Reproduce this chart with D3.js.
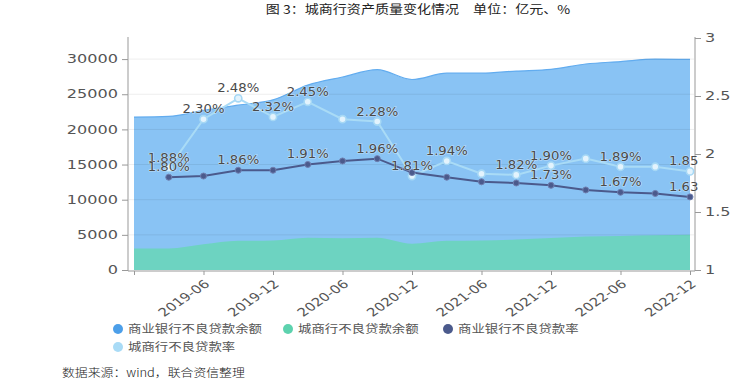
<!DOCTYPE html>
<html>
<head>
<meta charset="utf-8">
<script src="https://cdn.jsdelivr.net/npm/d3@7"></script>
<style>
  body { margin: 0; background: #fff; }
  svg { display: block; }
</style>
</head>
<body>
<div id="chart"></div>
<script>
// Quarterly data, 2018-12 .. 2022-12
const quarters = ["2018-12","2019-03","2019-06","2019-09","2019-12","2020-03","2020-06","2020-09","2020-12",
                  "2021-03","2021-06","2021-09","2021-12","2022-03","2022-06","2022-09","2022-12"]
// 商业银行不良贷款余额 (亿元)
const bankNpl = [21750,21850,22700,23450,24200,26300,27450,28500,27100,28000,28000,28300,28550,29300,29650,30000,29950]
// 城商行不良贷款余额 (亿元)
const cityNpl = [3050,3050,3650,4150,4200,4600,4500,4600,3750,4150,4200,4350,4550,4750,4850,4950,5000]
// 商业银行不良贷款率 (%)
const bankRate = [null,1.80,1.81,1.86,1.86,1.91,1.94,1.96,1.84,1.80,1.76,1.75,1.73,1.69,1.67,1.66,1.63]
// 城商行不良贷款率 (%)
const cityRate = [null,1.88,2.30,2.48,2.32,2.45,2.30,2.28,1.81,1.94,1.83,1.82,1.90,1.96,1.89,1.89,1.85]
// which rate points carry a visible label
const bankRateLabelAt = ["2019-03","2019-09","2020-03","2020-09","2021-12","2022-06","2022-12"]
const cityRateLabelAt = ["2019-03","2019-06","2019-09","2019-12","2020-03","2020-09","2020-12","2021-03","2021-09","2021-12","2022-06","2022-12"]
// axis ticks
const leftTicks = [0,5000,10000,15000,20000,25000,30000]
const rightTicks = [1,1.5,2,2.5,3]
const xTicks = quarters.filter(q => q.endsWith("-06") || q.endsWith("-12"))

const seriesNames = ["商业银行不良贷款余额","城商行不良贷款余额","商业银行不良贷款率","城商行不良贷款率"]
const colors = ["#4c9fe9","#5dd2ae","#4b5a8c","#a9dbf6"]

const width = 740, height = 386
const numFont = "'DejaVu Sans', sans-serif"
const cjkFont = "'Noto Sans CJK SC', sans-serif"

const svg = d3.select("#chart").append("svg")
    .attr("width", width).attr("height", height)

// Scales
const x = d3.scalePoint().domain(quarters).range([134, 690])
const yL = d3.scaleLinear().domain([0, 33000]).range([270, 38])
const yR = d3.scaleLinear().domain([1, 3]).range([270, 38])

// Title
svg.append("text")
   .attr("transform", "translate(418,14) scale(1.17,1)")
   .attr("text-anchor", "middle")
   .style("font-family", "'Noto Sans CJK SC', serif")
   .style("font-size", "12px")
   .attr("fill", "#222")
   .text("图 3：城商行资产质量变化情况　单位：亿元、%")

// Areas
const areaL = d3.area()
    .x((d, i) => x(quarters[i]))
    .y0(yL(0))
    .y1(d => yL(d))
    .curve(d3.curveMonotoneX)

svg.append("path").datum(bankNpl)
   .attr("d", areaL).attr("fill", "#89c3f4")
svg.append("path").datum(bankNpl)
   .attr("d", areaL.lineY1())
   .attr("fill", "none").attr("stroke", "#62acef").attr("stroke-width", 1.2)
svg.append("path").datum(cityNpl)
   .attr("d", areaL).attr("fill", "#6dd3c1")

// Grid lines (over the areas, faint)
svg.append("g").selectAll("line")
   .data(leftTicks.slice(1))
   .enter().append("line")
   .attr("x1", 129).attr("x2", 694)
   .attr("y1", d => yL(d)).attr("y2", d => yL(d))
   .attr("stroke", "#000").attr("stroke-opacity", 0.07)

// Left axis
const gL = svg.append("g").attr("transform", "translate(128,0)")
   .call(d3.axisLeft(yL).tickValues(leftTicks).tickSize(6).tickSizeOuter(0).tickFormat(d3.format("d")))
gL.select(".domain").attr("d", "M0,37V271").attr("stroke", "#999")
gL.selectAll(".tick line").attr("stroke", "#999")
gL.selectAll("text")
   .attr("x", -10 / 1.4).attr("transform", "scale(1.4,1)")
   .style("font-family", numFont).style("font-size", "11.5px").attr("fill", "#555")

// Right axis
const gR = svg.append("g").attr("transform", "translate(695,0)")
   .call(d3.axisRight(yR).tickValues(rightTicks).tickSize(6).tickSizeOuter(0).tickFormat(d3.format("")))
gR.select(".domain").attr("d", "M0,37V271").attr("stroke", "#999")
gR.selectAll(".tick line").attr("stroke", "#999")
gR.selectAll("text")
   .attr("x", 10 / 1.4).attr("transform", "scale(1.4,1)")
   .style("font-family", numFont).style("font-size", "11.5px").attr("fill", "#555")

// Bottom axis
const gB = svg.append("g").attr("transform", "translate(0,271)")
   .call(d3.axisBottom(x).tickValues(xTicks).tickSize(4).tickSizeOuter(0)
            .tickFormat(d => d === quarters[0] ? "" : d))
gB.select(".domain").attr("d", "M128,0H695").attr("stroke", "#999")
gB.selectAll(".tick line").attr("stroke", "#999")
gB.selectAll("text")
   .attr("x", 0).attr("y", 0).attr("dy", "0.35em")
   .attr("text-anchor", "end")
   .attr("transform", "translate(3,11) scale(1.3,1) rotate(-42)")
   .style("font-family", numFont).style("font-size", "11.5px").attr("fill", "#555")

// Rate lines
const clip = svg.append("clipPath").attr("id", "plotclip")
clip.append("rect").attr("x", 0).attr("y", 0).attr("width", 699).attr("height", 300)

const line = d3.line()
    .defined(d => d != null)
    .x((d, i) => x(quarters[i]))
    .y(d => yR(d))

svg.append("path").datum(cityRate)
   .attr("d", line).attr("fill", "none")
   .attr("stroke", colors[3]).attr("stroke-width", 2)
svg.append("path").datum(bankRate)
   .attr("d", line).attr("fill", "none")
   .attr("stroke", colors[2]).attr("stroke-width", 2)

const cityPts = quarters.map((q, i) => ({q: q, v: cityRate[i]})).filter(d => d.v != null)
const bankPts = quarters.map((q, i) => ({q: q, v: bankRate[i]})).filter(d => d.v != null)

svg.append("g").selectAll("circle").data(cityPts).enter().append("circle")
   .attr("cx", d => x(d.q)).attr("cy", d => yR(d.v)).attr("r", 3.6)
   .attr("fill", "#e3f3fd").attr("stroke", "#a6d8f5").attr("stroke-width", 1.6)
svg.append("g").selectAll("circle").data(bankPts).enter().append("circle")
   .attr("cx", d => x(d.q)).attr("cy", d => yR(d.v)).attr("r", 3)
   .attr("fill", colors[2]).attr("stroke", "#6f7fb0").attr("stroke-width", 1)

// Data labels
function addLabels(pts, shown) {
    svg.append("g").attr("clip-path", "url(#plotclip)")
       .selectAll("text")
       .data(pts.filter(d => shown.includes(d.q)))
       .enter().append("text")
       .attr("transform", d => `translate(${x(d.q)},${yR(d.v) - 10}) scale(1.15,1)`)
       .attr("text-anchor", "middle")
       .attr("dy", "0.35em")
       .style("font-family", numFont).style("font-size", "11.5px")
       .attr("fill", "#4a4a4a")
       .attr("stroke", "#fff").attr("stroke-width", 1.2).attr("stroke-opacity", 0.45)
       .attr("paint-order", "stroke")
       .text(d => d.v.toFixed(2) + "%")
}
addLabels(cityPts, cityRateLabelAt)
addLabels(bankPts, bankRateLabelAt)

// Legend
const legendPos = [[118,329],[288,329],[448,329],[118,347]]
const legend = svg.append("g")
seriesNames.forEach((name, i) => {
    const g = legend.append("g").attr("transform", `translate(${legendPos[i][0]},${legendPos[i][1]})`)
    g.append("circle").attr("r", 5).attr("fill", colors[i])
    g.append("text")
     .attr("transform", "translate(10,0) scale(1.22,1)")
     .attr("dy", "0.35em")
     .style("font-family", cjkFont).style("font-size", "11px")
     .attr("fill", "#555")
     .text(name)
})

// Source
svg.append("text")
   .attr("transform", "translate(62,373) scale(1.12,1)")
   .attr("dy", "0.35em")
   .style("font-family", "'Noto Sans CJK SC', serif")
   .style("font-size", "11.5px")
   .style("font-weight", 300)
   .attr("fill", "#222")
   .text("数据来源：wind，联合资信整理")
</script>
</body>
</html>
